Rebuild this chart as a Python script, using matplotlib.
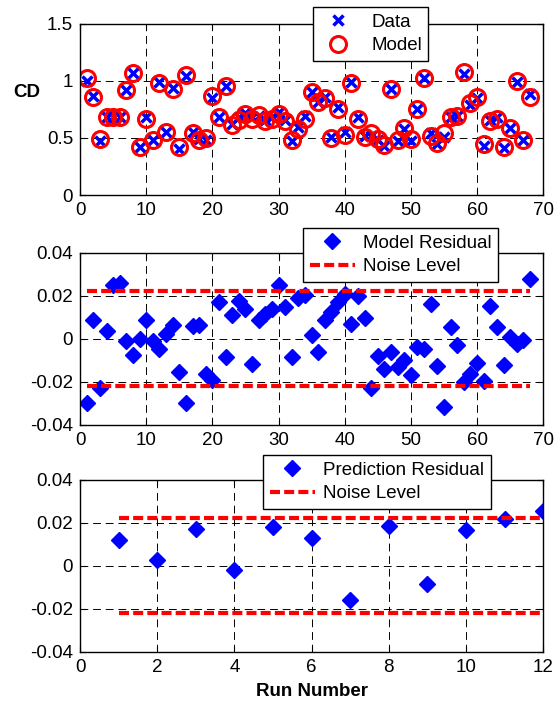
import matplotlib
matplotlib.use('Agg')
import matplotlib.pyplot as plt
from matplotlib.ticker import FuncFormatter

plt.rcParams['font.family'] = ['Liberation Sans', 'DejaVu Sans']
plt.rcParams['font.size'] = 13.5

# Top panel: CD data vs model fit, runs 1..68
runs = list(range(1, 69))
cd_data = [1.00, 0.87, 0.47, 0.68, 0.68, 0.68, 0.92, 1.07, 0.42, 0.68,
           0.48, 0.99, 0.55, 0.94, 0.40, 1.04, 0.55, 0.49, 0.48, 0.85,
           0.68, 0.96, 0.62, 0.68, 0.72, 0.68, 0.69, 0.66, 0.68, 0.73,
           0.66, 0.47, 0.60, 0.69, 0.90, 0.82, 0.86, 0.51, 0.77, 0.55,
           0.99, 0.68, 0.52, 0.52, 0.48, 0.43, 0.93, 0.47, 0.58, 0.47,
           0.75, 1.03, 0.54, 0.45, 0.51, 0.68, 0.69, 1.06, 0.79, 0.85,
           0.43, 0.66, 0.68, 0.41, 0.59, 0.99, 0.48, 0.89]
cd_model = [1.03, 0.86, 0.49, 0.68, 0.68, 0.68, 0.92, 1.07, 0.42, 0.67,
            0.48, 0.98, 0.55, 0.93, 0.42, 1.05, 0.54, 0.48, 0.50, 0.87,
            0.68, 0.96, 0.61, 0.66, 0.71, 0.67, 0.70, 0.65, 0.67, 0.71,
            0.65, 0.48, 0.58, 0.67, 0.90, 0.82, 0.85, 0.50, 0.75, 0.53,
            0.98, 0.67, 0.51, 0.54, 0.49, 0.44, 0.93, 0.48, 0.59, 0.49,
            0.75, 1.03, 0.52, 0.46, 0.54, 0.68, 0.69, 1.08, 0.81, 0.86,
            0.45, 0.65, 0.67, 0.42, 0.59, 1.00, 0.48, 0.86]

# Middle panel: model residuals
model_resid = [-0.0300, 0.0088, -0.0230, 0.0039, 0.0250, 0.0260, -0.0008, -0.0074, 0.0000, 0.0088,
               -0.0008, -0.0047, 0.0023, 0.0065, -0.0155, -0.0300, 0.0060, 0.0065, -0.0163, -0.0190,
               0.0174, -0.0085, 0.0110, 0.0177, 0.0140, -0.0118, 0.0088, 0.0115, 0.0138, 0.0250,
               0.0147, -0.0085, 0.0192, 0.0205, 0.0020, -0.0059, 0.0088, 0.0127, 0.0174, 0.0209,
               0.0068, 0.0200, 0.0096, -0.0230, -0.0079, -0.0141, -0.0059, -0.0132, -0.0098, -0.0167,
               -0.0039, -0.0047, 0.0161, -0.0126, -0.0315, 0.0054, -0.0028, -0.0202, -0.0163, -0.0110,
               -0.0194, 0.0153, 0.0054, -0.0121, 0.0008, -0.0023, -0.0005, 0.0279]

# Bottom panel: prediction residuals, runs 1..12
pred_runs = list(range(1, 13))
pred_resid = [0.0122, 0.0026, 0.0172, -0.0020, 0.0180, 0.0132,
              -0.0158, 0.0186, -0.0086, 0.0165, 0.0218, 0.0254]

noise_hi = 0.0225
noise_lo = -0.0220

fig = plt.figure(figsize=(5.6, 7.05), dpi=100)
ax1 = fig.add_axes([0.143, 0.7234, 0.827, 0.2426])
ax2 = fig.add_axes([0.143, 0.3972, 0.827, 0.2440])
ax3 = fig.add_axes([0.143, 0.0752, 0.827, 0.2440])

blue = '#0000ff'
red = '#ff0000'


def style(ax):
    ax.grid(True, color='k', linestyle=(0, (8, 5)), linewidth=0.7)
    ax.set_axisbelow(True)
    ax.tick_params(direction='in', top=True, right=True, length=4, width=0.8, pad=5)
    for s in ax.spines.values():
        s.set_linewidth(1.0)


def add_legend(ax, x0, y0, textpad, hlen):
    leg = ax.legend(loc='upper left', bbox_to_anchor=(x0, y0), borderaxespad=0,
                    fancybox=False, edgecolor='k', framealpha=1, borderpad=0.35,
                    labelspacing=0.35, handletextpad=textpad, handlelength=hlen)
    leg.get_frame().set_linewidth(1.0)


fmt = FuncFormatter(lambda v, p: ('%g' % round(v, 4)))

# Top
ax1.plot(runs, cd_data, 'x', color=blue, ms=6.5, mew=2.5, label='Data')
ax1.plot(runs, cd_model, 'o', mfc='none', mec=red, ms=11.5, mew=2.2, label='Model')
ax1.set_xlim(0, 70)
ax1.set_ylim(0, 1.5)
ax1.set_yticks([0, 0.5, 1, 1.5])
ax1.yaxis.set_major_formatter(fmt)
ax1.set_ylabel('CD', rotation=0, fontweight='bold')
ax1.yaxis.set_label_coords(-0.115, 0.55)
style(ax1)
add_legend(ax1, 0.503, 1.10, 0.75, 2.0)

# Middle
ax2.plot(runs, model_resid, 'D', color=blue, ms=8, label='Model Residual')
ax2.plot([runs[0], runs[-1]], [noise_hi, noise_hi], color=red, lw=3,
         dashes=(2.4, 1.0), label='Noise Level')
ax2.plot([runs[0], runs[-1]], [noise_lo, noise_lo], color=red, lw=3,
         dashes=(2.4, 1.0))
ax2.set_xlim(0, 70)
ax2.set_ylim(-0.04, 0.04)
ax2.set_yticks([-0.04, -0.02, 0, 0.02, 0.04])
ax2.yaxis.set_major_formatter(fmt)
style(ax2)
add_legend(ax2, 0.482, 1.145, 0.45, 2.4)

# Bottom
ax3.plot(pred_runs, pred_resid, 'D', color=blue, ms=8, label='Prediction Residual')
ax3.plot([pred_runs[0], pred_runs[-1]], [noise_hi, noise_hi], color=red, lw=3,
         dashes=(2.4, 1.0), label='Noise Level')
ax3.plot([pred_runs[0], pred_runs[-1]], [noise_lo, noise_lo], color=red, lw=3,
         dashes=(2.4, 1.0))
ax3.set_xlim(0, 12)
ax3.set_ylim(-0.04, 0.04)
ax3.set_yticks([-0.04, -0.02, 0, 0.02, 0.04])
ax3.yaxis.set_major_formatter(fmt)
ax3.set_xlabel('Run Number', fontweight='bold', labelpad=5)
style(ax3)
add_legend(ax3, 0.395, 1.145, 0.45, 2.4)

fig.savefig('out.png', dpi=100)
